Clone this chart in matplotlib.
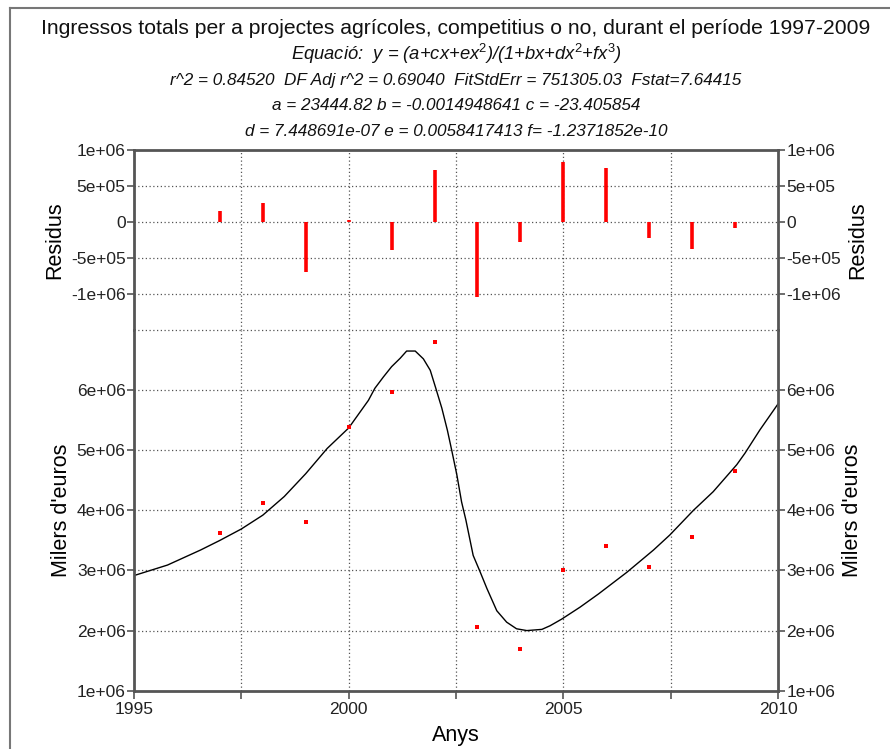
import matplotlib
matplotlib.use("Agg")
import matplotlib.pyplot as plt
from matplotlib.lines import Line2D

plt.rcParams['font.family'] = ['Liberation Sans', 'DejaVu Sans']
plt.rcParams['mathtext.fontset'] = 'custom'
plt.rcParams['mathtext.rm'] = 'Liberation Sans'
plt.rcParams['mathtext.it'] = 'Liberation Sans:italic'

# ---- data ----
years = [1997, 1998, 1999, 2000, 2001, 2002, 2003, 2004, 2005, 2006, 2007, 2008, 2009]
income = [3.62e6, 4.13e6, 3.80e6, 5.39e6, 5.97e6, 6.80e6, 2.06e6, 1.69e6,
          3.01e6, 3.41e6, 3.05e6, 3.56e6, 4.65e6]
residuals = [0.15e6, 0.26e6, -0.70e6, 0.03e6, -0.385e6, 0.72e6, -1.04e6, -0.28e6,
             0.83e6, 0.75e6, -0.22e6, -0.37e6, -0.08e6]

curve_x = [1995.0, 1995.78, 1996.55, 1997.0, 1997.5, 1998.0, 1998.5, 1999.0, 1999.5,
           2000.0, 2000.26, 2000.46, 2000.61, 2000.81, 2001.0, 2001.2, 2001.35,
           2001.55, 2001.74, 2001.90, 2002.03, 2002.17, 2002.30, 2002.40, 2002.52,
           2002.63, 2002.73, 2002.90, 2003.06, 2003.22, 2003.45, 2003.68, 2003.91,
           2004.15, 2004.50, 2004.69, 2004.96, 2005.39, 2005.82, 2006.48, 2007.10,
           2007.48, 2008.03, 2008.49, 2009.04, 2009.23, 2009.58, 2010.0]
curve_y = [2.915e6, 3.09e6, 3.34e6, 3.50e6, 3.69e6, 3.92e6, 4.23e6, 4.61e6, 5.03e6,
           5.37e6, 5.63e6, 5.83e6, 6.03e6, 6.22e6, 6.39e6, 6.53e6, 6.65e6,
           6.65e6, 6.52e6, 6.33e6, 6.03e6, 5.70e6, 5.33e6, 5.00e6, 4.59e6,
           4.14e6, 3.84e6, 3.25e6, 2.98e6, 2.70e6, 2.33e6, 2.14e6, 2.03e6,
           2.00e6, 2.02e6, 2.08e6, 2.19e6, 2.39e6, 2.61e6, 2.97e6, 3.34e6,
           3.59e6, 4.00e6, 4.31e6, 4.76e6, 4.95e6, 5.34e6, 5.77e6]

x_ticks = [1995, 1997.5, 2000, 2002.5, 2005, 2007.5, 2010]
x_ticklabels = ['1995', '', '2000', '', '2005', '', '2010']
main_yticks = [1e6, 2e6, 3e6, 4e6, 5e6, 6e6]
main_yticklabels = ['1e+06', '2e+06', '3e+06', '4e+06', '5e+06', '6e+06']
res_yticks = [-1e6, -5e5, 0, 5e5, 1e6]
res_yticklabels = ['-1e+06', '-5e+05', '0', '5e+05', '1e+06']

title_lines = [
    'Ingressos totals per a projectes agrícoles, competitius o no, durant el període 1997-2009',
    'Equació:  y = (a+cx+ex$^{2}$)/(1+bx+dx$^{2}$+fx$^{3}$)',
    'r^2 = 0.84520  DF Adj r^2 = 0.69040  FitStdErr = 751305.03  Fstat=7.64415',
    'a = 23444.82 b = -0.0014948641 c = -23.405854',
    'd = 7.448691e-07 e = 0.0058417413 f= -1.2371852e-10',
]

W, H = 890, 749
fig = plt.figure(figsize=(W / 100, H / 100), dpi=100)
fig.patch.set_facecolor('white')

def fx(px):
    return px / W

def fy(py):
    return 1 - py / H

left, right = 134, 778
ax_res = fig.add_axes([fx(left), fy(330), fx(right - left), (330 - 150) / H])
ax_main = fig.add_axes([fx(left), fy(690.7), fx(right - left), (690.7 - 330) / H])

spine_col = '#555555'
grid_kw = dict(color='#555555', linestyle=(0, (1, 2)), linewidth=0.9)
tick_fs = 12.5

for ax in (ax_res, ax_main):
    ax.set_xlim(1995, 2010)
    for s in ('left', 'right'):
        ax.spines[s].set_color(spine_col)
        ax.spines[s].set_linewidth(2)
    ax.tick_params(axis='y', which='both', direction='out', length=5, width=1.2,
                   color=spine_col, left=True, right=True, labelleft=True,
                   labelright=True, labelsize=tick_fs, pad=1, labelcolor='#222222')
    for gx in x_ticks[1:-1]:
        ax.axvline(gx, **grid_kw, zorder=0)

# residual panel
ax_res.set_ylim(-1.5e6, 1e6)
ax_res.spines['top'].set_color(spine_col)
ax_res.spines['top'].set_linewidth(2)
ax_res.spines['bottom'].set_visible(False)
ax_res.set_xticks([])
ax_res.set_yticks(res_yticks)
ax_res.set_yticklabels(res_yticklabels)
for gy in res_yticks[:-1] + [-1.5e6]:
    ax_res.axhline(gy, **grid_kw, zorder=0)
ax_res.vlines(years, 0, residuals, color='#ff0000', linewidth=2.6, zorder=3)

# main panel
ax_main.set_ylim(1e6, 7e6)
ax_main.spines['top'].set_visible(False)
ax_main.spines['bottom'].set_color(spine_col)
ax_main.spines['bottom'].set_linewidth(2)
ax_main.set_yticks(main_yticks)
ax_main.set_yticklabels(main_yticklabels)
for gy in main_yticks[1:] + [7e6]:
    ax_main.axhline(gy, **grid_kw, zorder=0)
ax_main.set_xticks(x_ticks)
ax_main.set_xticklabels(x_ticklabels)
ax_main.tick_params(axis='x', direction='out', length=6, width=1.2, color=spine_col,
                    labelsize=tick_fs, pad=2, labelcolor='#222222')
ax_main.plot(curve_x, curve_y, color='black', linewidth=1.0, zorder=2)
ax_main.plot(years, income, linestyle='none', marker='s', markersize=2.6,
             color='#ff0000', markeredgewidth=0, zorder=3)

# axis labels
lab_fs = 15.5
fig.text(fx(55), fy(240), 'Residus', rotation=90, ha='center', va='center', fontsize=lab_fs)
fig.text(fx(858), fy(240), 'Residus', rotation=90, ha='center', va='center', fontsize=lab_fs)
fig.text(fx(62), fy(510), "Milers d'euros", rotation=90, ha='center', va='center', fontsize=lab_fs)
fig.text(fx(852), fy(510), "Milers d'euros", rotation=90, ha='center', va='center', fontsize=lab_fs)
fig.text(fx(456), fy(735), 'Anys', ha='center', va='center', fontsize=lab_fs)

# title block
cx = fx(456)
fig.text(cx, fy(28), title_lines[0], ha='center', va='center', fontsize=15.2,
         color='#111111')
fig.text(cx, fy(54), title_lines[1], ha='center', va='center', fontsize=13.2,
         style='italic', color='#111111')
for i, line in enumerate(title_lines[2:]):
    fig.text(cx, fy(80 + 25.7 * i), line, ha='center', va='center', fontsize=12.3,
             style='italic', color='#111111')

# outer frame
fig.add_artist(Line2D([fx(10), fx(10)], [fy(8), 0], color='#777777', linewidth=1.5,
                      transform=fig.transFigure))
fig.add_artist(Line2D([fx(10), 1], [fy(8), fy(8)], color='#777777', linewidth=1.5,
                      transform=fig.transFigure))

fig.savefig('out.png', dpi=100)
